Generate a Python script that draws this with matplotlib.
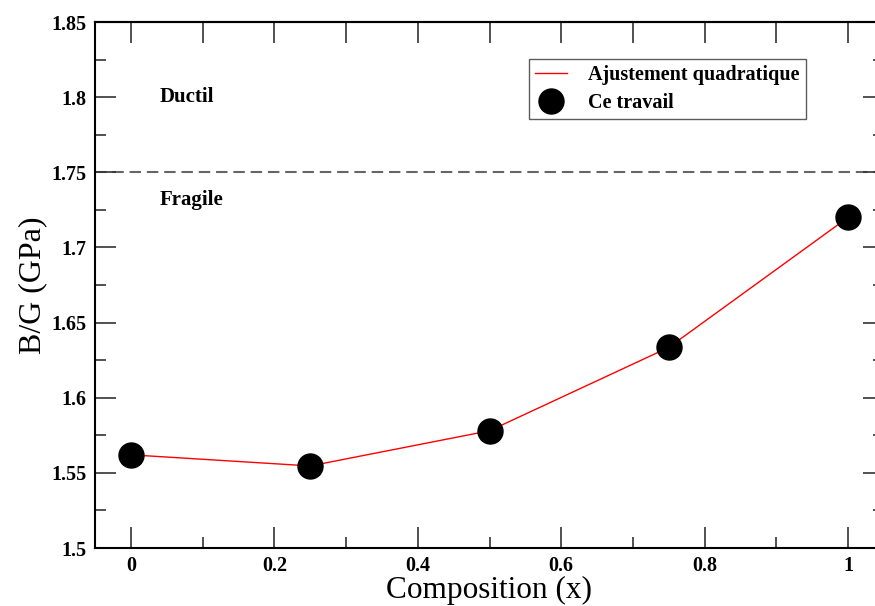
import matplotlib
matplotlib.use("Agg")
import matplotlib.pyplot as plt
import numpy as np

composition = [0.0, 0.25, 0.5, 0.75, 1.0]
bg_ratio = [1.562, 1.5546, 1.578, 1.6335, 1.720]
threshold = 1.75
fit_label = "Ajustement quadratique"
data_label = "Ce travail"

plt.rcParams['font.family'] = ['Liberation Serif', 'DejaVu Serif']

fig = plt.figure(figsize=(8.75, 6.06), dpi=100)
W, H = 875, 606
left, right, top, bottom = 95, 884, 22, 548
ax = fig.add_axes([left / W, 1 - bottom / H, (right - left) / W, (bottom - top) / H])

ax.plot(composition, bg_ratio, color='red', lw=1.0, label=fit_label, zorder=2)
ax.plot(composition, bg_ratio, 'o', color='black', ms=18, ls='none', label=data_label, zorder=3)
ax.axhline(threshold, color='#666666', lw=1.5, ls=(0, (5.5, 2.8)), zorder=1)

ax.text(0.04, 1.8, "Ductil", fontsize=15, fontweight='bold', va='center', ha='left')
ax.text(0.04, 1.7315, "Fragile", fontsize=15, fontweight='bold', va='center', ha='left')

ax.set_xlim(-0.05, 1.05)
ax.set_ylim(1.5, 1.85)
ax.set_xticks(np.arange(0, 1.01, 0.2))
ax.set_xticklabels(['0', '0.2', '0.4', '0.6', '0.8', '1'])
ax.set_xticks(np.arange(0.1, 1.0, 0.2), minor=True)
yt = [1.5, 1.55, 1.6, 1.65, 1.7, 1.75, 1.8, 1.85]
ax.set_yticks(yt)
ax.set_yticklabels(['1.5', '1.55', '1.6', '1.65', '1.7', '1.75', '1.8', '1.85'])
ax.set_yticks(np.arange(1.525, 1.85, 0.05), minor=True)

ax.tick_params(which='major', direction='in', length=15, width=1.2, color='#333333',
               top=False, right=True, labelsize=14.5, pad=6)
ax.tick_params(which='major', axis='y', pad=6)
ax.tick_params(which='minor', direction='in', length=8, width=1.2, color='#333333',
               top=False, right=True)
for lab in ax.get_xticklabels() + ax.get_yticklabels():
    lab.set_fontweight('bold')

sec = ax.secondary_xaxis('top')
sec.set_xticks(np.arange(0, 1.01, 0.1))
sec.tick_params(direction='in', length=15, width=1.2, color='#333333', labeltop=False)
sec.spines['top'].set_linewidth(1.5)

for s in ax.spines.values():
    s.set_linewidth(1.5)

ax.set_xlabel("Composition (x)", fontsize=22.5, labelpad=0)
ax.set_ylabel("B/G (GPa)", fontsize=23, labelpad=3)

leg = ax.legend(loc='upper left', bbox_to_anchor=((529 - left) / (right - left), 1 - (59 - top) / (bottom - top)),
                prop={'weight': 'bold', 'size': 14.5}, frameon=True, fancybox=False,
                edgecolor='#333333', borderpad=0.3, labelspacing=0.4, handlelength=1.6,
                handletextpad=1.05, markerscale=1.0, borderaxespad=0)
leg.get_frame().set_linewidth(1.0)

fig.savefig("out.png", dpi=100)
